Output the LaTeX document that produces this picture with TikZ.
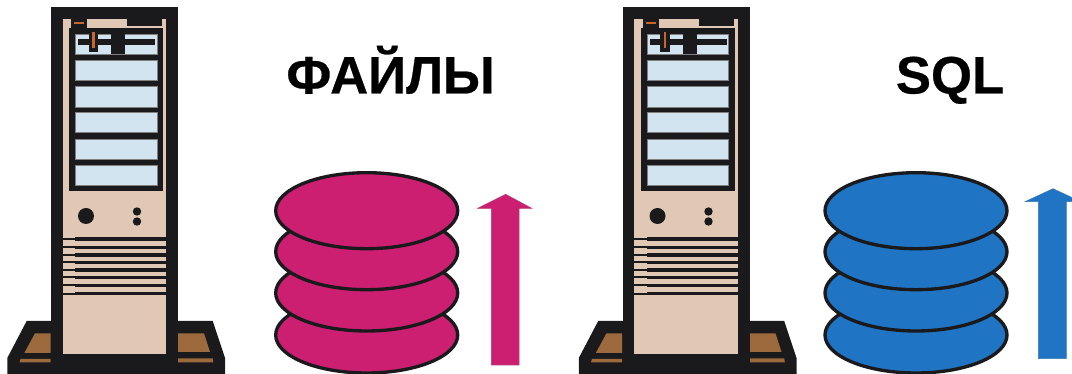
\documentclass[tikz,border=0pt]{standalone}
\usepackage{fontspec}
\setmainfont{Liberation Sans}[BoldFeatures={FakeBold=0.5}]
\usetikzlibrary{positioning}
\definecolor{deepblack}{HTML}{1A1A1C}
\definecolor{rackbeige}{HTML}{E0C8B5}
\definecolor{softblue}{HTML}{D2E4EF}
\definecolor{footbrown}{HTML}{9C6A3C}
\definecolor{ledorange}{HTML}{C8662E}
\definecolor{diskpink}{HTML}{CC1F72}
\definecolor{diskblue}{HTML}{1F74C4}
\tikzset{
  disk/.style={draw=deepblack,line width=1.9pt},
  title/.style={font=\bfseries\fontsize{30}{36}\selectfont,text=black,inner sep=0pt,anchor=base},
  pics/server/.style={code={
    % stand
    \fill[deepblack] (51,321) -- (26.7,321) -- (7.3,358) -- (7.3,374) -- (225,374) -- (225,358) -- (212.7,321) -- (178,321) -- cycle;
    \fill[footbrown] (50.7,333.3) -- (35,333.3) -- (24.3,353) -- (50.7,353) -- cycle;
    \fill[footbrown] (19.5,362.3) -- (20.5,359) -- (50.7,359) -- (50.7,362.3) -- cycle;
    \fill[footbrown] (177.7,333.3) -- (204,333.3) -- (210,352) -- (177.7,352) -- cycle;
    \fill[footbrown] (177.7,358.3) -- (212.7,358.3) -- (213.3,362.3) -- (177.7,362.3) -- cycle;
    % case
    \fill[deepblack] (51,7) rectangle (178,374);
    \fill[rackbeige] (62.5,19) rectangle (166,354);
    \fill[deepblack] (71,19) rectangle (87,28);
    \fill[ledorange] (74,21.8) rectangle (84,23.6);
    \fill[deepblack] (127,19) rectangle (162,26);
    \fill[deepblack] (69,28) rectangle (163,191);
    \foreach \y/\h in {34/54,60/80,86/107,112.5/132.5,139/159,165/185} {
      \filldraw[softblue,draw=gray,line width=0.2pt] (75.5,\y) rectangle (157,\h);
    }
    \fill[deepblack] (78,39.5) rectangle (155,45);
    \fill[deepblack] (88.5,34) rectangle (98,52);
    \fill[deepblack] (111,34) rectangle (125,54);
    \fill[ledorange] (92,32.5) rectangle (94.5,48);
    % buttons
    \fill[deepblack] (86,216) circle (8);
    \fill[deepblack] (137,211.5) circle (4.2);
    \fill[deepblack] (137,221.5) circle (4.2);
    % vents
    \foreach \y in {239,247.5,255,262.5,270,277.5,285.5,293.7} {
      \fill[deepblack] (62.5,\y-1) rectangle (75,\y+1);
      \fill[deepblack] (75,\y-1.8) rectangle (166,\y+1.8);
    }
  }}
}
\begin{document}
\begin{tikzpicture}[x=0.02cm,y=-0.02cm]
    \clip (0,0) rectangle (1072,374);
    \fill[white] (0,0) rectangle (1072,374);
    \pic at (0,0) {server};
    \pic at (571.5,0) {server};
    \node[title] (filesTitle) at (390.5,93.5) {ФАЙЛЫ};
    \node[title] (sqlTitle) at (950,93.5) {SQL};
    \foreach \y in {335,293,251.7,210.7} {
      \filldraw[disk,fill=diskpink] (366.7,\y) ellipse [x radius=91,y radius=38];
      \filldraw[disk,fill=diskblue] (916,\y) ellipse [x radius=91,y radius=38];
    }
    \filldraw[diskpink,draw=diskpink!70!gray,line width=0.3pt] (491.3,365) -- (491.3,208.3) -- (477.7,208.3) -- (505.7,194.3) -- (531.7,208.3) -- (519,208.3) -- (519,365) -- cycle;
    \filldraw[diskblue,draw=diskblue!70!gray,line width=0.3pt] (1038.3,358.7) -- (1038.3,201.7) -- (1025,201.7) -- (1053,188.7) -- (1081,201.7) -- (1066.3,201.7) -- (1066.3,358.7) -- cycle;
  \end{tikzpicture}
\end{document}
